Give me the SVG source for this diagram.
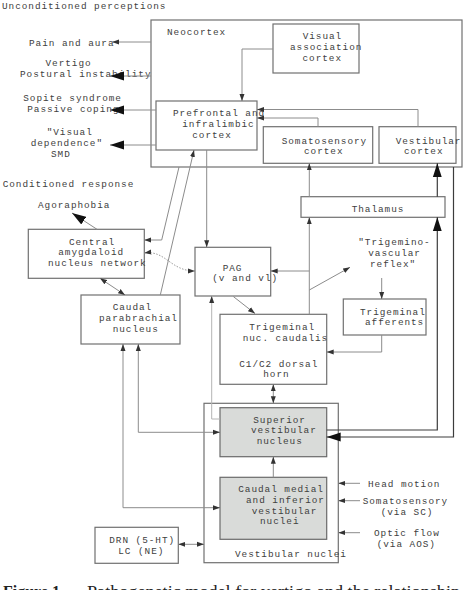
<svg xmlns="http://www.w3.org/2000/svg" width="467" height="590" viewBox="0 0 467 590">
<style>
text{font-family:"Liberation Mono","Courier New",monospace;font-size:9.4px;letter-spacing:0.95px;fill:#404040}
.box{fill:#fff;stroke:#707070;stroke-width:1.2}
.gbox{fill:#d9dbd9;stroke:#6a6a6a;stroke-width:1.2}
.ln{fill:none;stroke:#8c8c8c;stroke-width:1}
.lt{fill:none;stroke:#b4b4b4;stroke-width:1}
.dk{fill:none;stroke:#3c3c3c;stroke-width:1.2}
.dot{fill:none;stroke:#9a9a9a;stroke-width:1;stroke-dasharray:1.5 1.5}
text.cap{font-family:"Liberation Serif","Times New Roman",serif;font-size:16px;letter-spacing:0;fill:#222}
</style>
<defs>
<marker id="a" markerUnits="userSpaceOnUse" markerWidth="8" markerHeight="6" refX="7" refY="3" orient="auto-start-reverse"><path d="M0,0.5 L7,3 L0,5.5 Z" fill="#333"/></marker>
<marker id="A" markerUnits="userSpaceOnUse" markerWidth="15" markerHeight="10" refX="14" refY="5" orient="auto-start-reverse"><path d="M0,0.5 L14,5 L0,9.5 Z" fill="#111"/></marker>
</defs>
<rect width="467" height="590" fill="#fff"/>

<g id="labels-left">
<text x="2" y="8.5">Unconditioned perceptions</text>
<text x="29" y="46">Pain and aura</text>
<text x="45.5" y="65.5">Vertigo</text>
<text x="20" y="76.5">Postural instability</text>
<text x="23.3" y="100.8">Sopite syndrome</text>
<text x="27.3" y="111.6">Passive coping</text>
<text x="46.7" y="135.3">"Visual</text>
<text x="30.7" y="146">dependence"</text>
<text x="51" y="156.8">SMD</text>
<text x="2.7" y="187">Conditioned response</text>
<text x="38" y="208">Agoraphobia</text>
</g>

<g id="neocortex">
<rect class="box" x="151" y="20" width="311" height="147"/>
<text x="167" y="35">Neocortex</text>
</g>
<g id="visual-association-cortex">
<rect class="box" x="273" y="24" width="86" height="49"/>
<text x="302.7" y="39">Visual</text>
<text x="290" y="49.8">association</text>
<text x="302.5" y="60.6">cortex</text>
</g>
<g id="prefrontal-cortex">
<rect class="box" x="156" y="101" width="101" height="49"/>
<text x="173" y="116">Prefrontal and</text>
<text x="182.3" y="126.8">infralimbic</text>
<text x="192.3" y="137.6">cortex</text>
</g>
<g id="somatosensory-cortex">
<rect class="box" x="263.3" y="126.7" width="109.4" height="36.6"/>
<text x="281.7" y="143.5">Somatosensory</text>
<text x="304" y="154.4">cortex</text>
</g>
<g id="vestibular-cortex">
<rect class="box" x="379" y="126.7" width="77" height="36.6"/>
<text x="395.7" y="143.5">Vestibular</text>
<text x="404" y="154.4">cortex</text>
</g>
<g id="thalamus">
<rect class="box" x="301" y="196.7" width="144" height="20.6"/>
<text x="351.7" y="211.5">Thalamus</text>
</g>
<g id="central-amygdaloid">
<rect class="box" x="28.3" y="229.3" width="116" height="49"/>
<text x="69" y="244.5">Central</text>
<text x="58.3" y="255.3">amygdaloid</text>
<text x="48" y="266.1">nucleus network</text>
</g>
<g id="pag">
<rect class="box" x="195" y="247.3" width="75.7" height="48.7"/>
<text x="222.7" y="270.5">PAG</text>
<text x="212.3" y="281.3">(v and vl)</text>
</g>
<g id="trigeminovascular-reflex">
<text x="358.3" y="245">"Trigemino-</text>
<text x="368.3" y="255.8">vascular</text>
<text x="370" y="266.6">reflex"</text>
</g>
<g id="trigeminal-afferents">
<rect class="box" x="343.3" y="299" width="82.7" height="36"/>
<text x="360" y="314.6">Trigeminal</text>
<text x="365" y="325.4">afferents</text>
</g>
<g id="caudal-parabrachial">
<rect class="box" x="81" y="295" width="99" height="49"/>
<text x="112.7" y="310">Caudal</text>
<text x="99" y="320.8">parabrachial</text>
<text x="112.7" y="331.6">nucleus</text>
</g>
<g id="trigeminal-nucleus">
<rect class="box" x="220" y="314.3" width="106.7" height="70"/>
<text x="249.3" y="330">Trigeminal</text>
<text x="242.7" y="340.8">nuc. caudalis</text>
<text x="239.3" y="366.6">C1/C2 dorsal</text>
<text x="263.3" y="377.4">horn</text>
</g>
<g id="vestibular-nuclei">
<rect class="box" x="204" y="403.3" width="134.3" height="159.4"/>
<text x="235" y="556.5">Vestibular nuclei</text>
</g>
<g id="superior-vestibular-nucleus">
<rect class="gbox" x="220" y="407.7" width="106.7" height="49"/>
<text x="253.3" y="422.6">Superior</text>
<text x="251" y="433.4">vestibular</text>
<text x="256.7" y="444.2">nucleus</text>
</g>
<g id="caudal-medial-inferior-vn">
<rect class="gbox" x="220" y="477.3" width="106.7" height="62"/>
<text x="238.3" y="492">Caudal medial</text>
<text x="246" y="502.8">and inferior</text>
<text x="251.7" y="513.6">vestibular</text>
<text x="260" y="524.4">nuclei</text>
</g>
<g id="drn-lc">
<rect class="box" x="95" y="527.3" width="83.3" height="36"/>
<text x="109.3" y="543.3">DRN (5-HT)</text>
<text x="118.3" y="554.1">LC (NE)</text>
</g>
<g id="inputs">
<text x="368" y="486.5">Head motion</text>
<text x="362.7" y="503.8">Somatosensory</text>
<text x="380.7" y="514.6">(via SC)</text>
<text x="374" y="535.8">Optic flow</text>
<text x="376.7" y="546.6">(via AOS)</text>
</g>

<g id="connectors">
<path class="ln" d="M151,42 H112" marker-end="url(#a)"/>
<path class="ln" d="M151,76 H110" marker-end="url(#A)"/>
<path class="ln" d="M156,110 H110" marker-end="url(#A)"/>
<path class="ln" d="M156,145 H110" marker-end="url(#A)"/>
<path class="ln" d="M273,49 H242 V101" marker-end="url(#a)"/>
<path class="ln" d="M318,126.7 V118 H257" marker-end="url(#a)"/>
<path class="ln" d="M418,126.7 V109.5 H257" marker-end="url(#a)"/>
<path class="ln" d="M309.3,196.7 V163.3" marker-end="url(#a)"/>
<path class="dk" d="M437.3,196.7 V163.3" marker-end="url(#A)"/>
<path class="dk" d="M326.7,430 H437.3 V217.3" marker-end="url(#A)"/>
<path class="dk" d="M453.5,167 V437 H326.7" marker-end="url(#A)"/>
<path class="ln" d="M309.3,314.3 V217.3" marker-end="url(#a)"/>
<path class="ln" d="M309.3,271 H270.7" marker-end="url(#a)"/>
<path class="ln" d="M309.3,290 L350,267.3" marker-end="url(#a)"/>
<path class="ln" d="M381.7,278 V299" marker-end="url(#a)"/>
<path class="ln" d="M381.7,335 V352 H326.7" marker-end="url(#a)"/>
<path class="ln" d="M233.3,296.5 L255,313.5" marker-end="url(#a)"/>
<path class="ln" d="M273.3,384.3 V403.3" marker-start="url(#a)" marker-end="url(#a)"/>
<path class="ln" d="M206.7,150 V247.3" marker-end="url(#a)"/>
<path class="ln" d="M179,167 L161.7,240 H144.3" marker-end="url(#a)"/>
<path class="ln" d="M160.3,295 L194,150" marker-end="url(#a)"/>
<path class="dot" d="M144.3,253 C166,250 170,271 195,271" marker-start="url(#a)" marker-end="url(#a)"/>
<path class="ln" d="M97,229.3 L72,213" marker-end="url(#A)"/>
<path class="ln" d="M100,278.3 L125,295" marker-start="url(#a)" marker-end="url(#a)"/>
<path class="ln" d="M138.3,344 V432.3 H220" marker-start="url(#a)" marker-end="url(#a)"/>
<path class="ln" d="M123,344 V507.7 H220" marker-start="url(#a)" marker-end="url(#a)"/>
<path class="lt" d="M220,419 H211.7 V296" marker-end="url(#a)"/>
<path class="ln" d="M273.3,477.3 V456.7" marker-end="url(#a)"/>
<path class="ln" d="M178.3,544.3 H204" marker-start="url(#a)" marker-end="url(#a)"/>
<path class="ln" d="M360,483.3 H338.3" marker-end="url(#a)"/>
<path class="ln" d="M360,500.7 H338.3" marker-end="url(#a)"/>
<path class="ln" d="M360,532.7 H338.3" marker-end="url(#a)"/>
</g>

<g id="caption">
<text class="cap" x="3" y="597" font-weight="bold">Figure 1</text>
<text class="cap" x="87" y="597" textLength="373" lengthAdjust="spacingAndGlyphs">Pathogenetic model for vertigo and the relationship</text>
</g>
</svg>
